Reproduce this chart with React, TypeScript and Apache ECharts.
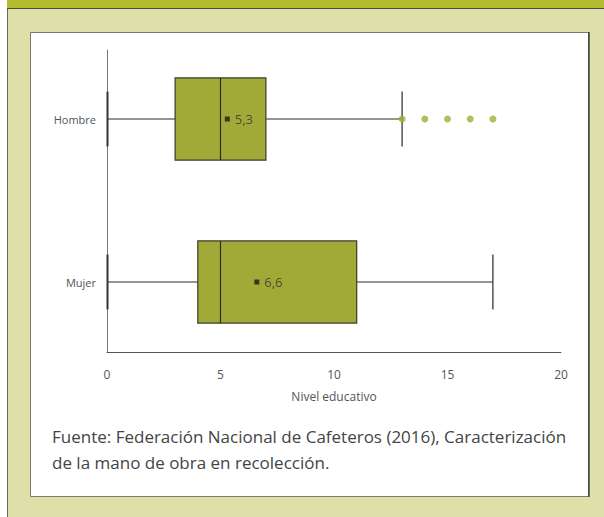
import React, { useEffect, useRef } from "react";
import * as echarts from "echarts";

const categories = ["Mujer", "Hombre"];
// [categoryIndex, min, q1, median, q3, max]
const boxData = [
  [0, 0, 4, 5, 11, 17],
  [1, 0, 3, 5, 7, 13],
];
const meanValues = [6.6, 5.3];
const meanLabels = ["6,6", "5,3"];
const outliersHombre = [13, 14, 15, 16, 17];
const xTicks = { min: 0, max: 20, interval: 5 };
const axisName = "Nivel educativo";
const sourceLines = [
  "Fuente: Federación Nacional de Cafeteros (2016), Caracterización",
  "de la mano de obra en recolección.",
];

const FONT = "'Open Sans', Lato, sans-serif";
const OLIVE = "#a2aa37";

export default function App() {
  const ref = useRef<HTMLDivElement>(null);
  useEffect(() => {
    if (!ref.current) return;
    const chart = echarts.init(ref.current, undefined, { renderer: "svg" });
    const option: any = {
      animation: false,
      backgroundColor: "#ffffff",
      textStyle: { fontFamily: FONT },
      graphic: [
        { type: "rect", shape: { x: 7, y: 0, width: 597, height: 517 }, style: { fill: "#dde0a9" }, z: -10 },
        { type: "rect", shape: { x: 7, y: 0, width: 597, height: 8 }, style: { fill: "#b5bb30" }, z: -9 },
        { type: "line", shape: { x1: 7, y1: 8.5, x2: 604, y2: 8.5 }, style: { stroke: "#4a4a3a", lineWidth: 1 }, z: -8 },
        { type: "line", shape: { x1: 7.5, y1: 9, x2: 7.5, y2: 517 }, style: { stroke: "#6a6a60", lineWidth: 1 }, z: -8 },
        { type: "rect", shape: { x: 30.5, y: 32.5, width: 558, height: 464 }, style: { fill: "#ffffff", stroke: "#7a7a70", lineWidth: 1 }, z: -7 },
        { type: "line", shape: { x1: 589, y1: 32, x2: 589, y2: 497 }, style: { stroke: "#222", lineWidth: 1.2 }, z: -6 },
        {
          type: "text",
          left: 52,
          top: 428,
          style: { text: sourceLines[0], fontSize: 17, fill: "#444", fontFamily: FONT },
        },
        {
          type: "text",
          left: 52,
          top: 454,
          style: { text: sourceLines[1], fontSize: 17, fill: "#444", fontFamily: FONT },
        },
      ],
      grid: [
        { left: 107, right: 43, top: 50, height: 302 },
        { left: 107, right: 43, top: 37.5, height: 326 },
      ],
      xAxis: [
        {
          gridIndex: 0,
          type: "value",
          min: xTicks.min,
          max: xTicks.max,
          interval: xTicks.interval,
          axisLine: { show: true, lineStyle: { color: "#555", width: 1 } },
          axisTick: { show: false },
          splitLine: { show: false },
          axisLabel: { margin: 16, color: "#555", fontSize: 12, fontFamily: FONT },
          name: axisName,
          nameLocation: "middle",
          nameGap: 38,
          nameTextStyle: { color: "#555", fontSize: 12, fontFamily: FONT },
        },
        {
          gridIndex: 1,
          type: "value",
          min: xTicks.min,
          max: xTicks.max,
          show: false,
        },
      ],
      yAxis: [
        {
          gridIndex: 0,
          type: "value",
          axisLine: { show: true, lineStyle: { color: "#777", width: 1 } },
          axisTick: { show: false },
          axisLabel: { show: false },
          splitLine: { show: false },
        },
        {
          gridIndex: 1,
          type: "category",
          data: categories,
          axisLine: { show: false },
          axisTick: { show: false },
          splitLine: { show: false },
          axisLabel: { margin: 11, color: "#555", fontSize: 11, fontFamily: FONT },
        },
      ],
      series: [
        {
          type: "custom",
          xAxisIndex: 1,
          yAxisIndex: 1,
          encode: { x: [1, 2, 3, 4, 5], y: 0 },
          data: boxData,
          z: 2,
          renderItem: (params: any, api: any) => {
            const cat = api.value(0);
            const lo = api.coord([api.value(1), cat]);
            const q1 = api.coord([api.value(2), cat]);
            const med = api.coord([api.value(3), cat]);
            const q3 = api.coord([api.value(4), cat]);
            const hi = api.coord([api.value(5), cat]);
            const band = api.size([0, 1])[1];
            const hb = band * 0.252;
            const hc = band * 0.168;
            const cy = lo[1];
            const stroke = { stroke: "#2a2a22", lineWidth: 1.2 };
            return {
              type: "group",
              children: [
                { type: "line", shape: { x1: lo[0], y1: cy, x2: q1[0], y2: cy }, style: stroke },
                { type: "line", shape: { x1: q3[0], y1: cy, x2: hi[0], y2: cy }, style: stroke },
                { type: "line", shape: { x1: lo[0] + 0.5, y1: cy - hc, x2: lo[0] + 0.5, y2: cy + hc }, style: { stroke: "#333", lineWidth: 2 } },
                { type: "line", shape: { x1: hi[0], y1: cy - hc, x2: hi[0], y2: cy + hc }, style: stroke },
                {
                  type: "rect",
                  shape: { x: q1[0], y: cy - hb, width: q3[0] - q1[0], height: 2 * hb },
                  style: { fill: OLIVE, stroke: "#3a3a2a", lineWidth: 1.2 },
                },
                { type: "line", shape: { x1: med[0], y1: cy - hb, x2: med[0], y2: cy + hb }, style: stroke },
              ],
            };
          },
        },
        {
          type: "scatter",
          xAxisIndex: 1,
          yAxisIndex: 1,
          z: 3,
          symbol: "rect",
          symbolSize: 5,
          itemStyle: { color: "#1a1a1a" },
          data: meanValues.map((v, i) => [v, i]),
          label: {
            show: true,
            position: "right",
            distance: 5,
            fontSize: 13,
            color: "#333",
            fontFamily: FONT,
            formatter: (p: any) => meanLabels[p.dataIndex],
          },
        },
        {
          type: "scatter",
          xAxisIndex: 1,
          yAxisIndex: 1,
          z: 4,
          symbol: "circle",
          symbolSize: 7,
          itemStyle: { color: "#a3ad36" },
          data: outliersHombre.map((v) => [v, 1]),
        },
      ],
    };
    chart.setOption(option);
    return () => chart.dispose();
  }, []);
  return (
    <div
      ref={ref}
      style={{ position: "fixed", left: 0, top: 0, width: 604, height: 517 }}
    />
  );
}
